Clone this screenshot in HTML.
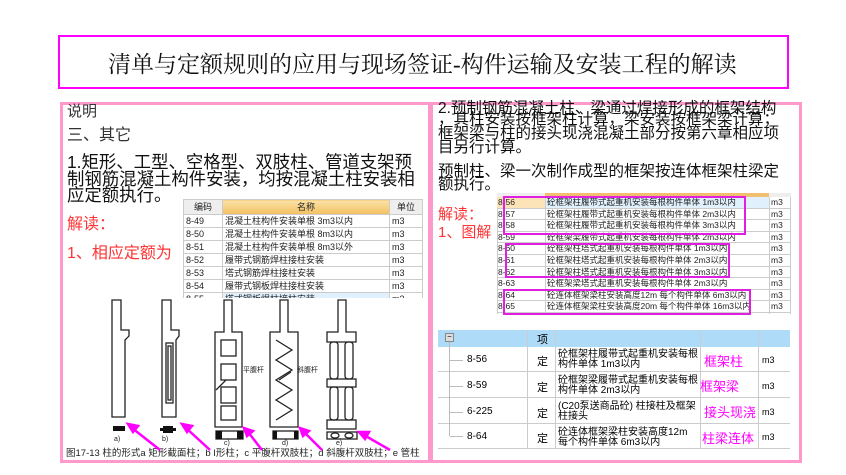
<!DOCTYPE html>
<html><head><meta charset="utf-8"><style>
*{margin:0;padding:0;box-sizing:border-box}
body{width:846px;height:475px;background:#fff;position:relative;overflow:hidden;font-family:"Liberation Sans","Noto Sans CJK SC",sans-serif;}
.a{position:absolute;white-space:nowrap}
.cj{font-family:"Liberation Serif","Noto Serif CJK SC",serif}
.t td{border:1px solid #ccc;font-size:9px;padding:0 2px;height:13px;line-height:12px;white-space:nowrap;overflow:hidden;color:#222}
.t{border-collapse:collapse;position:absolute;table-layout:fixed}
.m{position:absolute;border:2px solid #e020e0}
.r{position:absolute;left:497px;width:294px;height:11.6px;border-bottom:1px solid #ccc;font-size:8.5px;line-height:11px;color:#222}
.r span{position:absolute;top:0}
.r .c{left:1px}.r .n{left:50px}.r .u{left:274px}
</style></head><body>
<div class="a" style="left:58px;top:35px;width:731px;height:54px;border:2px solid #f0f"></div>
<div class="a cj" style="left:108px;top:46px;font-size:23px;color:#111">清单与定额规则的应用与现场签证-构件运输及安装工程的解读</div>

<div class="a" style="left:60px;top:102px;width:371px;height:361px;border:3px solid #f9c"></div>
<div class="a" style="left:430px;top:102px;width:372px;height:361px;border:3px solid #f9c"></div>

<!-- left text -->
<div class="a" style="left:67px;top:103px;font-size:15px;line-height:17px;color:#333">说明</div>
<div class="a" style="left:67px;top:126px;font-size:16px;line-height:19px;color:#333">三、其它</div>
<div class="a" style="left:67px;top:154px;font-size:17.4px;line-height:16.5px;color:#111;white-space:normal;width:360px">1.矩形、工型、空格型、双肢柱、管道支架预制钢筋混凝土构件安装，均按混凝土柱安装相应定额执行。</div>
<div class="a" style="left:67px;top:210px;font-size:16px;color:#f33">解读：</div>
<div class="a" style="left:67px;top:239px;font-size:16px;color:#f33">1、相应定额为</div>

<table class="t" style="left:183px;top:199px;width:239px">
<colgroup><col style="width:39px"><col style="width:167px"><col style="width:33px"></colgroup>
<tr style="background:#eee"><td style="height:15px;text-align:center">编码</td><td style="background:linear-gradient(#fbe3a8,#f2c060);text-align:center">名称</td><td style="text-align:center">单位</td></tr>
<tr><td>8-49</td><td>混凝土柱构件安装单根 3m3以内</td><td>m3</td></tr>
<tr><td>8-50</td><td>混凝土柱构件安装单根 8m3以内</td><td>m3</td></tr>
<tr><td>8-51</td><td>混凝土柱构件安装单根 8m3以外</td><td>m3</td></tr>
<tr><td>8-52</td><td>履带式钢筋焊柱接柱安装</td><td>m3</td></tr>
<tr><td>8-53</td><td>塔式钢筋焊柱接柱安装</td><td>m3</td></tr>
<tr><td>8-54</td><td>履带式钢板焊柱接柱安装</td><td>m3</td></tr>
<tr><td style="height:6px">8-55</td><td style="background:#e0f0fc;height:6px">塔式钢板焊柱接柱安装</td><td>m3</td></tr>
</table>
<div class="a" style="left:64px;top:298px;width:364px;height:160px;background:#fff"></div>

<svg class="a" style="left:0;top:0" width="846" height="475">
<g fill="none" stroke="#222" stroke-width="1.3">
<path d="M112 300h9v30h8v6l-4 4v77h-13z"/>
<path d="M162 300h9v30h8v6l-3 4v77h-14z"/>
<rect x="166" y="343" width="7" height="60"/><rect x="168" y="346" width="3" height="54"/>
<path d="M224 300h8v32h10v95h-27v-95h9z"/>
<rect x="221" y="340" width="15" height="16"/><rect x="221" y="364" width="15" height="16"/><rect x="221" y="387" width="15" height="16"/><rect x="221" y="406" width="15" height="14"/>
<path d="M280 300h8v32h10v95h-28v-95h10z"/>
<path d="M276 340l16 10l-16 10l16 10l-16 10l16 10l-16 10l16 10l-16 10"/>
<path d="M338 300h8v32h10v10h-29v-10h11z"/>
<rect x="327" y="379" width="29" height="8"/><rect x="327" y="420" width="29" height="9"/>
<rect x="330" y="342" width="8" height="37" rx="3"/><rect x="345" y="342" width="8" height="37" rx="3"/>
<rect x="330" y="387" width="8" height="33" rx="3"/><rect x="345" y="387" width="8" height="33" rx="3"/>
<path d="M226 380l-10 10M291 372l-12 8"/>
<rect x="327" y="432" width="30" height="7"/><ellipse cx="335" cy="435.5" rx="4" ry="2.5"/><ellipse cx="349" cy="435.5" rx="4" ry="2.5"/>
<rect x="216" y="431" width="27" height="8"/><rect x="273" y="431" width="25" height="8"/>
</g>
<g fill="#111"><rect x="113" y="426" width="12" height="5"/><path d="M160 428h3v-2h10v2h3v3h-3v2h-10v-2h-3z"/>
<rect x="216" y="431" width="6" height="8"/><rect x="237" y="431" width="6" height="8"/><rect x="273" y="431" width="4" height="8"/><rect x="294" y="431" width="4" height="8"/></g>
<g font-size="7" fill="#222"><text x="114" y="441">a)</text><text x="162" y="441">b)</text><text x="224" y="445">c)</text><text x="282" y="445">d)</text><text x="336" y="445">e)</text>
<text x="243" y="372">平腹杆</text><text x="297" y="372">斜腹杆</text>
<text x="66" y="456" font-size="9.5">图17-13   柱的形式a 矩形截面柱；b I形柱；c 平腹杆双肢柱；d 斜腹杆双肢柱；e 管柱</text></g>
<g stroke="#f0f" stroke-width="2.5" fill="#f0f">
<path d="M160 450L132 428"/><path d="M128 424l10 2l-5 6z"/>
<path d="M210 450L186 428"/><path d="M182 424l10 2l-5 6z"/>
<path d="M262 450L248 432"/><path d="M244 428l9 3l-6 5z"/>
<path d="M322 450L304 432"/><path d="M300 428l9 3l-6 5z"/>
<path d="M390 450L364 435"/><path d="M359 432l10 0l-4 7z"/>
</g>
</svg>

<!-- right text -->
<div class="a" style="left:438px;top:101px;font-size:15.5px;line-height:16px;color:#111">2.预制钢筋混凝土柱、梁通过焊接形成的框架结构</div>
<div class="a" style="left:438px;top:112px;font-size:15.5px;line-height:16px;color:#111">，其柱安装按框架柱计算，梁安装按框架梁计算；</div>
<div class="a" style="left:438px;top:126px;font-size:15.5px;line-height:16px;color:#111">框架梁与柱的接头现浇混凝土部分按第六章相应项</div>
<div class="a" style="left:438px;top:140px;font-size:15.5px;line-height:16px;color:#111">目另行计算。</div>
<div class="a" style="left:438px;top:164px;font-size:15.5px;line-height:15px;color:#111">预制柱、梁一次制作成型的框架按连体框架柱梁定</div>
<div class="a" style="left:438px;top:177px;font-size:15.5px;line-height:15px;color:#111">额执行。</div>
<div class="a" style="left:438px;top:203px;font-size:15px;color:#f33">解读：</div>
<div class="a" style="left:438px;top:221px;font-size:15px;color:#f33">1、图解</div>

<div class="a" style="left:497px;top:193px;width:294px;height:4px;background:#eee"></div>
<div class="a" style="left:545px;top:193px;width:224px;height:4px;background:#f0c070"></div>
<div class="a" style="left:497px;top:197px;width:294px;height:117px;border-left:1px solid #ccc;border-right:1px solid #ccc"></div>
<div class="a" style="left:545px;top:197px;width:1px;height:117px;background:#ccc"></div>
<div class="a" style="left:769px;top:197px;width:1px;height:117px;background:#ccc"></div>
<div class="a" style="left:546px;top:197px;width:223px;height:11px;background:#e0f0fc"></div>
<div class="a" style="left:497px;top:197px;width:48px;height:11px;background:#fce4b8"></div>
<div class="r" style="top:197px"><span class="c">8-56</span><span class="n">砼框架柱履带式起重机安装每根构件单体 1m3以内</span><span class="u">m3</span></div>
<div class="r" style="top:208.6px"><span class="c">8-57</span><span class="n">砼框架柱履带式起重机安装每根构件单体 2m3以内</span><span class="u">m3</span></div>
<div class="r" style="top:220.2px"><span class="c">8-58</span><span class="n">砼框架柱履带式起重机安装每根构件单体 3m3以内</span><span class="u">m3</span></div>
<div class="r" style="top:231.8px"><span class="c">8-59</span><span class="n">砼框架梁履带式起重机安装每根构件单体 2m3以内</span><span class="u">m3</span></div>
<div class="r" style="top:243.4px"><span class="c">8-60</span><span class="n">砼框架柱塔式起重机安装每根构件单体 1m3以内</span><span class="u">m3</span></div>
<div class="r" style="top:255px"><span class="c">8-61</span><span class="n">砼框架柱塔式起重机安装每根构件单体 2m3以内</span><span class="u">m3</span></div>
<div class="r" style="top:266.6px"><span class="c">8-62</span><span class="n">砼框架柱塔式起重机安装每根构件单体 3m3以内</span><span class="u">m3</span></div>
<div class="r" style="top:278.2px"><span class="c">8-63</span><span class="n">砼框架梁塔式起重机安装每根构件单体 2m3以内</span><span class="u">m3</span></div>
<div class="r" style="top:289.8px"><span class="c">8-64</span><span class="n">砼连体框架梁柱安装高度12m 每个构件单体 6m3以内</span><span class="u">m3</span></div>
<div class="r" style="top:301.4px"><span class="c">8-65</span><span class="n">砼连体框架梁柱安装高度20m 每个构件单体 16m3以内</span><span class="u">m3</span></div>
<div class="m" style="left:503px;top:196px;width:243px;height:39px"></div>
<div class="m" style="left:505px;top:243px;width:225px;height:35px"></div>
<div class="m" style="left:503px;top:289px;width:248px;height:26px"></div>

<!-- lower table -->
<div class="a" style="left:438px;top:330px;width:352px;height:17px;background:#aedbf7"></div>
<div class="a" style="left:445px;top:333px;width:9px;height:9px;border:1px solid #888;background:#ddd;font-size:8px;line-height:6px;text-align:center">−</div>
<div class="a" style="left:537px;top:331px;font-size:11px">项</div>
<div class="a" style="left:527px;top:330px;width:1px;height:118px;background:#ccc"></div>
<div class="a" style="left:555px;top:330px;width:1px;height:118px;background:#ccc"></div>
<div class="a" style="left:700px;top:330px;width:1px;height:118px;background:#ccc"></div>
<div class="a" style="left:758px;top:330px;width:1px;height:118px;background:#ccc"></div>
<div class="a" style="left:438px;top:371px;width:352px;height:1px;background:#ccc"></div>
<div class="a" style="left:438px;top:397px;width:352px;height:1px;background:#ccc"></div>
<div class="a" style="left:438px;top:423px;width:352px;height:1px;background:#ccc"></div>
<div class="a" style="left:438px;top:448px;width:352px;height:1px;background:#ccc"></div>
<div class="a" style="left:449px;top:342px;width:1px;height:94px;background:#bbb"></div>
<div class="a" style="left:450px;top:360px;width:13px;height:1px;background:#bbb"></div>
<div class="a" style="left:450px;top:386px;width:13px;height:1px;background:#bbb"></div>
<div class="a" style="left:450px;top:412px;width:13px;height:1px;background:#bbb"></div>
<div class="a" style="left:450px;top:436px;width:13px;height:1px;background:#bbb"></div>
<div class="a" style="left:467px;top:354px;font-size:10px">8-56</div>
<div class="a" style="left:467px;top:380px;font-size:10px">8-59</div>
<div class="a" style="left:467px;top:406px;font-size:10px">6-225</div>
<div class="a" style="left:467px;top:431px;font-size:10px">8-64</div>
<div class="a" style="left:537px;top:353px;font-size:11px">定</div>
<div class="a" style="left:537px;top:379px;font-size:11px">定</div>
<div class="a" style="left:537px;top:405px;font-size:11px">定</div>
<div class="a" style="left:537px;top:430px;font-size:11px">定</div>
<div class="a" style="left:558px;top:350px;font-size:10px;line-height:10px;white-space:normal;width:140px">砼框架柱履带式起重机安装每根构件单体 1m3以内</div>
<div class="a" style="left:558px;top:376px;font-size:10px;line-height:10px;white-space:normal;width:140px">砼框架梁履带式起重机安装每根构件单体 2m3以内</div>
<div class="a" style="left:558px;top:402px;font-size:10px;line-height:10px;white-space:normal;width:140px">(C20泵送商品砼) 柱接柱及框架柱接头</div>
<div class="a" style="left:558px;top:428px;font-size:10px;line-height:10px;white-space:normal;width:140px">砼连体框架梁柱安装高度12m 每个构件单体 6m3以内</div>
<div class="a" style="left:704px;top:351px;font-size:13px;color:#f0f">框架柱</div>
<div class="a" style="left:700px;top:376px;font-size:13px;color:#f0f">框架梁</div>
<div class="a" style="left:704px;top:402px;font-size:13px;color:#f0f">接头现浇</div>
<div class="a" style="left:702px;top:428px;font-size:13px;color:#f0f">柱梁连体</div>
<div class="a" style="left:762px;top:355px;font-size:9px">m3</div>
<div class="a" style="left:762px;top:381px;font-size:9px">m3</div>
<div class="a" style="left:762px;top:407px;font-size:9px">m3</div>
<div class="a" style="left:762px;top:432px;font-size:9px">m3</div>
</body></html>
